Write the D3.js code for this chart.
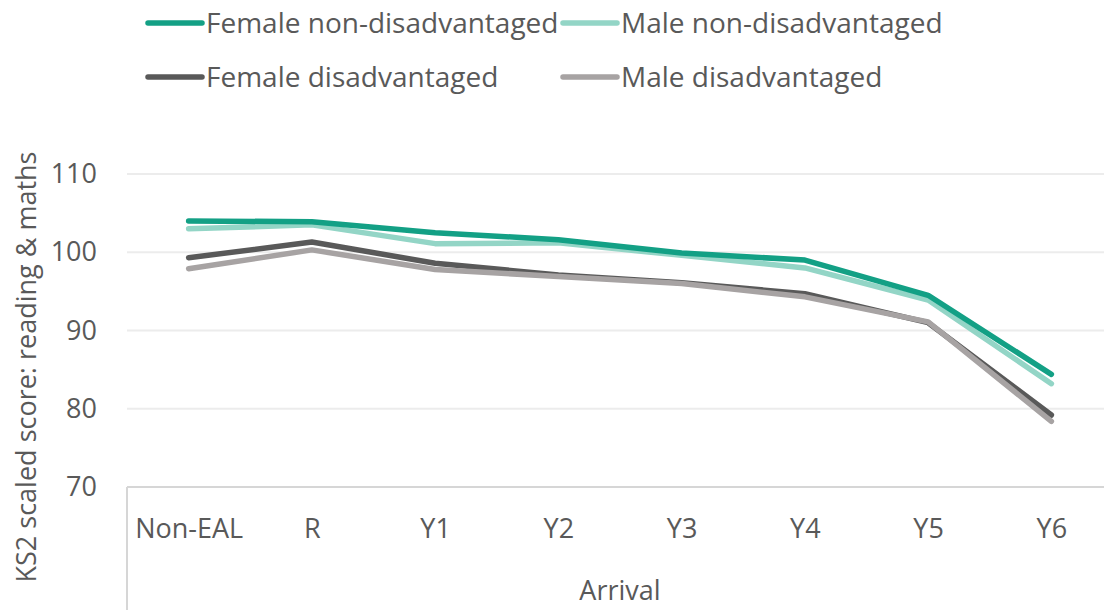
<!DOCTYPE html>
<html>
<head>
<meta charset="utf-8">
<script src="https://cdn.jsdelivr.net/npm/d3@7"></script>
<style>
  html, body { margin: 0; padding: 0; background: #fff; }
  svg { display: block; }
  text { font-family: "Open Sans", Lato, sans-serif; fill: #595959; }
</style>
</head>
<body>
<svg id="chart" width="1104" height="610"></svg>
<script>
// ---- data ----
const categories = ["Non-EAL", "R", "Y1", "Y2", "Y3", "Y4", "Y5", "Y6"];
const femaleNonDisadvantaged = [104.0, 103.9, 102.5, 101.6, 99.9, 99.0, 94.5, 84.4];
const maleNonDisadvantaged   = [103.0, 103.5, 101.1, 101.2, 99.6, 98.0, 93.9, 83.2];
const femaleDisadvantaged    = [99.3, 101.3, 98.6, 97.1, 96.1, 94.7, 91.0, 79.2];
const maleDisadvantaged      = [97.9, 100.3, 97.8, 96.9, 96.0, 94.3, 91.1, 78.4];
const yTicks = [70, 80, 90, 100, 110];
const seriesNames = ["Female non-disadvantaged", "Male non-disadvantaged", "Female disadvantaged", "Male disadvantaged"];
const seriesColors = ["#13a085", "#93d5c6", "#595959", "#a7a3a3"];
const yTitle = "KS2 scaled score: reading & maths";
const xTitle = "Arrival";

const series = [
  { name: seriesNames[0], values: femaleNonDisadvantaged, color: seriesColors[0] },
  { name: seriesNames[1], values: maleNonDisadvantaged,   color: seriesColors[1] },
  { name: seriesNames[2], values: femaleDisadvantaged,    color: seriesColors[2] },
  { name: seriesNames[3], values: maleDisadvantaged,      color: seriesColors[3] }
];

const svg = d3.select("#chart");
const plotLeft = 127, plotRight = 1113, plotTop = 174, plotBottom = 487;
const fontSize = 27;
const fontFamily = "'Open Sans', Lato, sans-serif";

const x = d3.scalePoint().domain(categories).range([plotLeft, plotRight]).padding(0.5);
const y = d3.scaleLinear().domain([70, 110]).range([plotBottom, plotTop]);

// gridlines
svg.append("g").selectAll("line")
  .data(yTicks.filter(t => t > 70))
  .join("line")
  .attr("x1", plotLeft).attr("x2", 1104)
  .attr("y1", d => y(d)).attr("y2", d => y(d))
  .attr("stroke", "#ececec").attr("stroke-width", 2);

// y tick labels
const yAxis = d3.axisLeft(y).tickValues(yTicks).tickSize(0).tickPadding(0);
const yg = svg.append("g").attr("transform", `translate(97,0)`).call(yAxis);
yg.select(".domain").remove();
yg.selectAll("text").attr("font-size", fontSize).attr("fill", "#595959")
  .style("font-family", fontFamily);

// x axis
const xAxis = d3.axisBottom(x).tickSize(0).tickPadding(0);
const xg = svg.append("g").attr("transform", `translate(0,${plotBottom})`).call(xAxis);
xg.select(".domain").remove();
xg.selectAll("text").attr("font-size", fontSize).attr("fill", "#595959")
  .attr("dy", null).attr("y", 51)
  .style("font-family", fontFamily);

// axis lines
svg.append("line").attr("x1", plotLeft).attr("x2", 1104)
  .attr("y1", plotBottom).attr("y2", plotBottom)
  .attr("stroke", "#d6d6d6").attr("stroke-width", 2);
svg.append("line").attr("x1", plotLeft).attr("x2", plotLeft)
  .attr("y1", plotBottom).attr("y2", 610)
  .attr("stroke", "#d6d6d6").attr("stroke-width", 2);

// lines
const line = d3.line().x((d, i) => x(categories[i])).y(d => y(d));
const drawOrder = [1, 0, 2, 3];
svg.append("g").selectAll("path")
  .data(drawOrder.map(i => series[i]))
  .join("path")
  .attr("d", d => line(d.values))
  .attr("fill", "none")
  .attr("stroke", d => d.color)
  .attr("stroke-width", 5.5)
  .attr("stroke-linecap", "round")
  .attr("stroke-linejoin", "round");

// axis titles
svg.append("text")
  .attr("transform", `translate(36,367) rotate(-90)`)
  .attr("text-anchor", "middle")
  .attr("font-size", 27)
  .text(yTitle);
svg.append("text")
  .attr("x", (plotLeft + plotRight) / 2).attr("y", 600)
  .attr("text-anchor", "middle")
  .attr("font-size", fontSize)
  .text(xTitle);

// legend
const legendPos = [
  { sx: 148, ty: 23 }, { sx: 563, ty: 23 },
  { sx: 148, ty: 77 }, { sx: 563, ty: 77 }
];
const lg = svg.append("g").selectAll("g").data(series).join("g")
  .attr("transform", (d, i) => `translate(${legendPos[i].sx},${legendPos[i].ty})`);
lg.append("line").attr("x1", 0).attr("x2", 54).attr("y1", 0).attr("y2", 0)
  .attr("stroke", d => d.color).attr("stroke-width", 5.5).attr("stroke-linecap", "round");
lg.append("text").attr("x", 58).attr("y", 0).attr("dy", "0.35em")
  .attr("font-size", 28).text(d => d.name);
</script>
</body>
</html>
